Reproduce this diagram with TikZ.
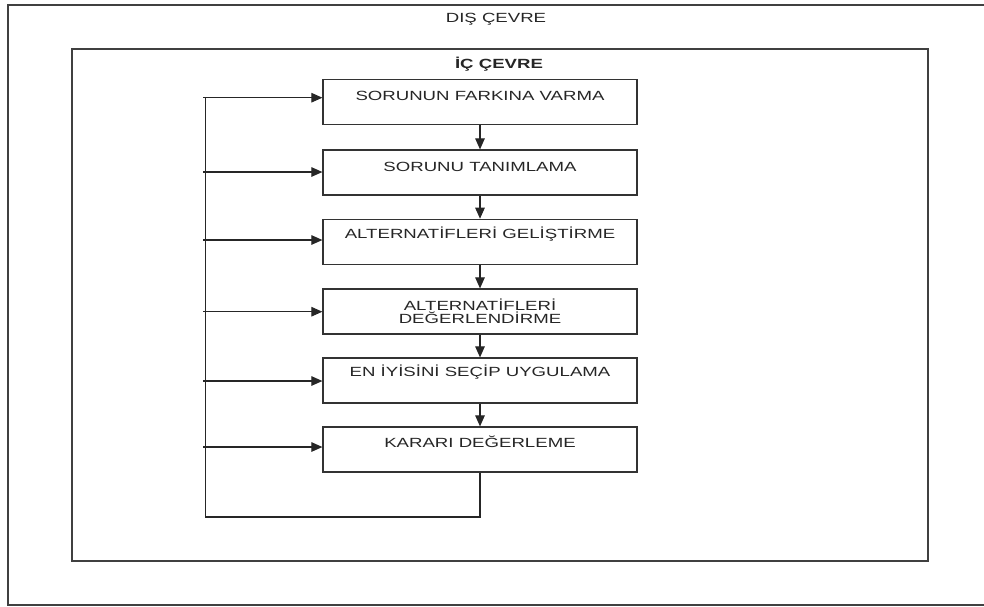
\documentclass[tikz,border=0pt]{standalone}
\usepackage{fontspec}
\setmainfont{Liberation Sans}
\newfontfamily\widefont[FakeStretch=1.4]{Liberation Sans}
\usetikzlibrary{arrows.meta}
\tikzset{
  frameline/.style={line width=1.4pt, draw=black!75},
  stepbox/.style={draw=black!80, line width=1.2pt, minimum width=314pt, minimum height=45pt, inner sep=0pt},
  steptext/.style={font=\widefont\fontsize{13.3}{15}\selectfont, text=black!85, align=center, inner sep=0pt},
  conn/.style={draw=black!85, line width=1.1pt, -{Triangle[length=11pt,width=9.5pt]}},
  fb/.style={draw=black!85, line width=1.1pt}
}
\begin{document}
\begin{tikzpicture}[x=1pt,y=-1pt]
\useasboundingbox (0,0) rectangle (984,606);
% outer frame (right side runs off the page)
\draw[frameline] (990,5) -- (8,5) -- (8,605) -- (990,605);
\node[steptext] (dis) at (496,19) {DIŞ ÇEVRE};
% inner frame
\node[frameline, draw, minimum width=856pt, minimum height=512pt, inner sep=0pt] (ic) at (500,305) {};
\node[steptext] (ict) at (499,64) {\bfseries İÇ ÇEVRE};
% step boxes
\node[stepbox] (b1) at (480,101.8) {};
\node[stepbox] (b2) at (480,172.5) {};
\node[stepbox] (b3) at (480,241.8) {};
\node[stepbox] (b4) at (480,311.5) {};
\node[stepbox] (b5) at (480,380.5) {};
\node[stepbox] (b6) at (480,449.5) {};
% step texts
\node[steptext] (t1) at (480,96) {SORUNUN FARKINA VARMA};
\node[steptext] (t2) at (480,166.7) {SORUNU TANIMLAMA};
\node[steptext] (t3) at (480,234) {ALTERNATİFLERİ GELİŞTİRME};
\node[steptext] (t4) at (480,311.5) {ALTERNATİFLERİ\\[-2pt]DEĞERLENDİRME};
\node[steptext] (t5) at (480,372.5) {EN İYİSİNİ SEÇİP UYGULAMA};
\node[steptext] (t6) at (480,442) {KARARI DEĞERLEME};
% downward arrows
\draw[conn] (b1.south) -- (b2.north);
\draw[conn] (b2.south) -- (b3.north);
\draw[conn] (b3.south) -- (b4.north);
\draw[conn] (b4.south) -- (b5.north);
\draw[conn] (b5.south) -- (b6.north);
% feedback loop
\coordinate (fbr) at (480,517);
\coordinate (fbl) at (205.7,517);
\coordinate (fbt) at (205.7,97.7);
\draw[fb] (b6.south) -- (fbr) -- (fbl) -- (fbt);
\coordinate (s1) at (203,97.7);
\coordinate (s2) at (203,172);
\coordinate (s3) at (203,240);
\coordinate (s4) at (203,311.7);
\coordinate (s5) at (203,381);
\coordinate (s6) at (203,447);
\draw[conn] (s1) -- (s1 -| b1.west);
\draw[conn] (s2) -- (s2 -| b2.west);
\draw[conn] (s3) -- (s3 -| b3.west);
\draw[conn] (s4) -- (s4 -| b4.west);
\draw[conn] (s5) -- (s5 -| b5.west);
\draw[conn] (s6) -- (s6 -| b6.west);
\end{tikzpicture}
\end{document}
